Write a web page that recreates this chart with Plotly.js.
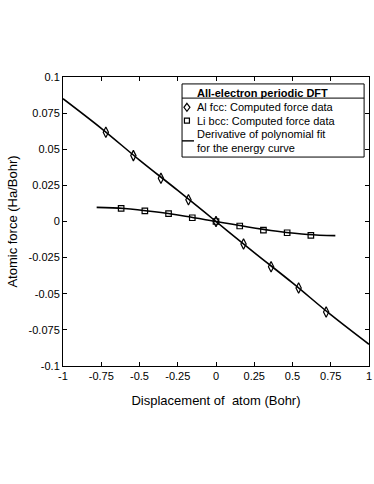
<!DOCTYPE html>
<html>
<head>
<meta charset="utf-8">
<script src="https://cdn.plot.ly/plotly-3.0.1.min.js"></script>
<style>
  body { margin: 0; background: #fff; }
  #chart { width: 374px; height: 484px; }
</style>
</head>
<body>
<div id="chart"></div>
<script>
// Al fcc computed forces (diamonds)
var alX = [-0.72, -0.54, -0.36, -0.18, 0, 0.18, 0.36, 0.54, 0.72];
var alY = [0.0618, 0.0456, 0.0299, 0.0151, 0, -0.0156, -0.0313, -0.046, -0.0627];

// Li bcc computed forces (squares)
var liX = [-0.62, -0.465, -0.31, -0.155, 0, 0.155, 0.31, 0.465, 0.62];
var liY = [0.0091, 0.0073, 0.0054, 0.0026, 0, -0.0031, -0.0059, -0.0078, -0.0096];

// derivative of polynomial fit
var alFitX = [-1, -0.75, -0.5, -0.25, 0, 0.25, 0.5, 0.75, 1];
var alFitY = [0.085, 0.0645, 0.0425, 0.0215, 0, -0.0215, -0.0425, -0.0645, -0.085];
var liFitX = [-0.78, -0.6, -0.4, -0.2, 0, 0.2, 0.4, 0.6, 0.78];
var liFitY = [0.0098, 0.009, 0.0067, 0.0036, 0, -0.0036, -0.0067, -0.009, -0.0098];

var xTicks = [-1, -0.75, -0.5, -0.25, 0, 0.25, 0.5, 0.75, 1];
var xLabels = ['-1', '-0.75', '-0.5', '-0.25', '0', '0.25', '0.5', '0.75', '1'];
var yTicks = [-0.1, -0.075, -0.05, -0.025, 0, 0.025, 0.05, 0.075, 0.1];
var yLabels = ['-0.1', '-0.075', '-0.05', '-0.025', '0', '0.025', '0.05', '0.075', '0.1'];

var legendTitle = '<b>All-electron periodic DFT</b>';
var legendNames = ['Al fcc: Computed force data', 'Li bcc: Computed force data',
  'Derivative of polynomial fit', 'for the energy curve'];

var data = [
  {
    x: alFitX, y: alFitY, type: 'scatter', mode: 'lines',
    line: { color: '#000', width: 1.6, shape: 'spline' }
  },
  {
    x: liFitX, y: liFitY, type: 'scatter', mode: 'lines',
    line: { color: '#000', width: 1.6, shape: 'spline' }
  },
  {
    x: alX, y: alY, type: 'scatter', mode: 'markers',
    marker: { symbol: 'diamond-tall-open', size: 7.5, color: '#000', line: { width: 1.2 } }
  },
  {
    x: liX, y: liY, type: 'scatter', mode: 'markers',
    marker: { symbol: 'square-open', size: 5.5, color: '#000', line: { width: 1.2 } }
  }
];

// hand-made legend box (paper coords)
var lx0 = 0.389, lx1 = 0.984, ly0 = 0.723, ly1 = 0.976;
var symX = 0.405, textX = 0.433;
var rowY = [0.895, 0.849, 0.803, 0.754];

var shapes = [
  { type: 'rect', xref: 'paper', yref: 'paper', x0: lx0, x1: lx1, y0: ly0, y1: ly1,
    fillcolor: '#fff', line: { color: '#000', width: 1 }, layer: 'above' },
  { type: 'line', xref: 'paper', yref: 'paper', x0: lx0, x1: lx1, y0: 0.927, y1: 0.927,
    line: { color: '#000', width: 1 }, layer: 'above' },
  { type: 'path', xref: 'paper', yref: 'paper', xsizemode: 'pixel', ysizemode: 'pixel',
    xanchor: symX, yanchor: rowY[0], path: 'M0,4 L3,0 L0,-4 L-3,0 Z',
    line: { color: '#000', width: 1.2 }, layer: 'above' },
  { type: 'rect', xref: 'paper', yref: 'paper', xsizemode: 'pixel', ysizemode: 'pixel',
    xanchor: symX, yanchor: rowY[1], x0: -2.5, x1: 2.5, y0: -2.5, y1: 2.5,
    line: { color: '#000', width: 1.2 }, layer: 'above' },
  { type: 'line', xref: 'paper', yref: 'paper', x0: lx0, x1: 0.428, y0: 0.779, y1: 0.779,
    line: { color: '#000', width: 1.4 }, layer: 'above' }
];

var annotations = [
  { xref: 'paper', yref: 'paper', x: textX, y: 0.945, xanchor: 'left', yanchor: 'middle',
    text: legendTitle, showarrow: false, font: { size: 11 } }
];
legendNames.forEach(function (name, i) {
  annotations.push({ xref: 'paper', yref: 'paper', x: textX, y: rowY[i],
    xanchor: 'left', yanchor: 'middle', text: name, showarrow: false, font: { size: 11 } });
});

var layout = {
  width: 374,
  height: 484,
  margin: { l: 63, r: 5, t: 77, b: 118 },
  paper_bgcolor: '#fff',
  plot_bgcolor: '#fff',
  showlegend: false,
  font: { family: 'Liberation Sans, Arial, sans-serif', size: 11, color: '#000' },
  xaxis: {
    range: [-1, 1],
    tickvals: xTicks, ticktext: xLabels,
    ticks: 'inside', ticklen: 4, tickcolor: '#000',
    showline: true, linecolor: '#000', linewidth: 1, mirror: 'ticks',
    showgrid: false, zeroline: false,
    title: { text: 'Displacement of  atom (Bohr)', font: { size: 13 }, standoff: 14 }
  },
  yaxis: {
    range: [-0.1, 0.1],
    tickvals: yTicks, ticktext: yLabels,
    ticks: 'inside', ticklen: 4, tickcolor: '#000',
    showline: true, linecolor: '#000', linewidth: 1, mirror: 'ticks',
    showgrid: false, zeroline: false,
    title: { text: 'Atomic force (Ha/Bohr)', font: { size: 13 }, standoff: 8 }
  },
  shapes: shapes,
  annotations: annotations
};

Plotly.newPlot('chart', data, layout, { displayModeBar: false, staticPlot: true });
</script>
</body>
</html>
